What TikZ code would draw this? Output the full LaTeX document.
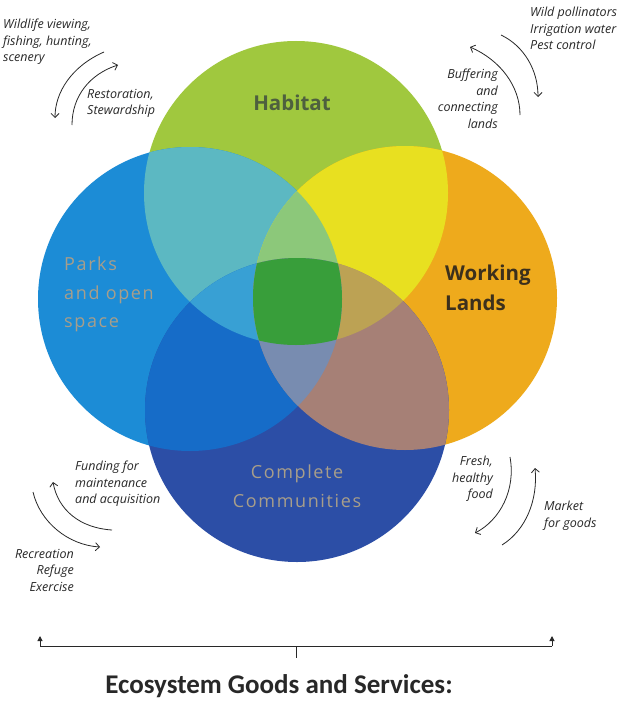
\documentclass[tikz,border=0pt]{standalone}
\usepackage{fontspec}
\setmainfont{Carlito}
\newfontfamily\notefont{Open Sans}
\usetikzlibrary{arrows.meta}
\definecolor{cG}{RGB}{160,200,62}
\definecolor{cB}{RGB}{28,140,214}
\definecolor{cO}{RGB}{238,170,28}
\definecolor{cC}{RGB}{44,78,166}
\definecolor{cGB}{RGB}{92,184,194}
\definecolor{cGO}{RGB}{232,224,32}
\definecolor{cBC}{RGB}{22,108,200}
\definecolor{cOC}{RGB}{166,128,118}
\definecolor{cGBO}{RGB}{140,200,122}
\definecolor{cGBC}{RGB}{56,160,212}
\definecolor{cGOC}{RGB}{188,162,84}
\definecolor{cBOC}{RGB}{120,140,176}
\definecolor{cAll}{RGB}{56,158,58}
\definecolor{lbl}{RGB}{40,40,40}
\definecolor{habtxt}{RGB}{78,96,62}
\definecolor{wltxt}{RGB}{60,48,28}
\definecolor{softtxt}{RGB}{168,158,138}
\tikzset{
  note/.style={font=\notefont\fontsize{12.5}{16.5}\selectfont\itshape, text=lbl, inner sep=0pt},
  flow/.style={draw=lbl, line width=0.8pt, -{Straight Barb[length=4pt,width=8pt]}},
  big/.style={font=\notefont\fontsize{20.5}{30}\selectfont\bfseries, inner sep=0pt},
  soft/.style={font=\notefont\fontsize{18}{28.5}\selectfont\addfontfeature{LetterSpace=9}, text=softtxt, inner sep=0pt},
}
\newcommand{\R}{152pt}
\begin{document}
\begin{tikzpicture}[x=1pt,y=-1pt]
\useasboundingbox (0,0) rectangle (618,701);
\fill[white] (0,0) rectangle (618,701);
\coordinate (G) at (296,193);
\coordinate (B) at (190,299);
\coordinate (O) at (405,298);
\coordinate (C) at (297,410);
% base circles
\fill[cG] (G) circle[radius=\R];
\fill[cB] (B) circle[radius=\R];
\fill[cO] (O) circle[radius=\R];
\fill[cC] (C) circle[radius=\R];
% two-way
\begin{scope}\clip (G) circle[radius=\R];
  \fill[cGB] (B) circle[radius=\R];
  \fill[cGO] (O) circle[radius=\R];
\end{scope}
\begin{scope}\clip (C) circle[radius=\R];
  \fill[cBC] (B) circle[radius=\R];
  \fill[cOC] (O) circle[radius=\R];
\end{scope}
% three-way
\begin{scope}\clip (G) circle[radius=\R];\clip (B) circle[radius=\R];
  \fill[cGBO] (O) circle[radius=\R];
  \fill[cGBC] (C) circle[radius=\R];
\end{scope}
\begin{scope}\clip (G) circle[radius=\R];\clip (O) circle[radius=\R];
  \fill[cGOC] (C) circle[radius=\R];
\end{scope}
\begin{scope}\clip (B) circle[radius=\R];\clip (O) circle[radius=\R];
  \fill[cBOC] (C) circle[radius=\R];
\end{scope}
% four-way
\begin{scope}\clip (G) circle[radius=\R];\clip (B) circle[radius=\R];\clip (O) circle[radius=\R];
  \fill[cAll] (C) circle[radius=\R];
\end{scope}
% circle labels
\node[big, text=habtxt] (hab) at (292,103) {Habitat};
\node[big, text=wltxt, anchor=north west, align=left] (wl) at (445,265) {Working\\Lands};
\node[soft, anchor=north west, align=left] (parks) at (64,257) {Parks\\and open\\space};
\node[soft, anchor=north, align=center] (cc) at (297,465) {Complete\\Communities};
% notes
\node[note, anchor=north west, align=left] (n1) at (3,19) {Wildlife viewing,\\fishing, hunting,\\scenery};
\node[note, anchor=north west, align=left] (n2) at (87,89) {Restoration,\\Stewardship};
\node[note, anchor=north west, align=left] (n3) at (530,7) {Wild pollinators\\Irrigation water\\Pest control};
\node[note, anchor=north east, align=right] (n4) at (498,69) {Buffering\\and\\connecting\\lands};
\node[note, anchor=north west, align=left] (n5) at (75,461) {Funding for\\maintenance\\and acquisition};
\node[note, anchor=north east, align=right] (n6) at (74,549) {Recreation\\Refuge\\Exercise};
\node[note, anchor=north east, align=right] (n7) at (493,456) {Fresh,\\healthy\\food};
\node[note, anchor=north west, align=left] (n8) at (544,501) {Market\\for goods};
% curved arrows
\coordinate (a1s) at (104,52);  \coordinate (a1e) at (55,118);
\coordinate (a2s) at (72,125);  \coordinate (a2e) at (118,65);
\coordinate (a3s) at (501,35);  \coordinate (a3e) at (538,97);
\coordinate (a4s) at (520,115); \coordinate (a4e) at (470,47);
\coordinate (a5s) at (112,530); \coordinate (a5e) at (53,482);
\coordinate (a6s) at (33,492);  \coordinate (a6e) at (100,547);
\coordinate (a7s) at (510,457); \coordinate (a7e) at (475,533);
\coordinate (a8s) at (502,545); \coordinate (a8e) at (535,468);
\draw[flow] (a1s) .. controls (72,66) and (55,92) .. (a1e);
\draw[flow] (a2s) .. controls (72,96) and (90,74) .. (a2e);
\draw[flow] (a3s) .. controls (524,46) and (538,70) .. (a3e);
\draw[flow] (a4s) .. controls (520,86) and (500,60) .. (a4e);
\draw[flow] (a5s) .. controls (80,528) and (58,510) .. (a5e);
\draw[flow] (a6s) .. controls (40,522) and (68,545) .. (a6e);
\draw[flow] (a7s) .. controls (516,490) and (500,520) .. (a7e);
\draw[flow] (a8s) .. controls (526,530) and (538,500) .. (a8e);
% bottom bracket
\coordinate (bl) at (40,646);
\coordinate (br) at (552,646);
\coordinate (bm) at (296,646);
\coordinate (bt) at (296,658);
\coordinate (blu) at (40,636);
\coordinate (bru) at (552,636);
\draw[draw=lbl, line width=1pt, -{Triangle[length=5pt,width=5pt]}] (bl) -- (blu);
\draw[draw=lbl, line width=1pt, -{Triangle[length=5pt,width=5pt]}] (br) -- (bru);
\draw[draw=lbl, line width=1pt] (bl) -- (br);
\draw[draw=lbl, line width=1pt] (bm) -- (bt);
\node[font=\fontsize{27}{30}\selectfont\bfseries, text=lbl, inner sep=0pt] (title) at (279,686) {Ecosystem Goods and Services:};
\end{tikzpicture}
\end{document}
